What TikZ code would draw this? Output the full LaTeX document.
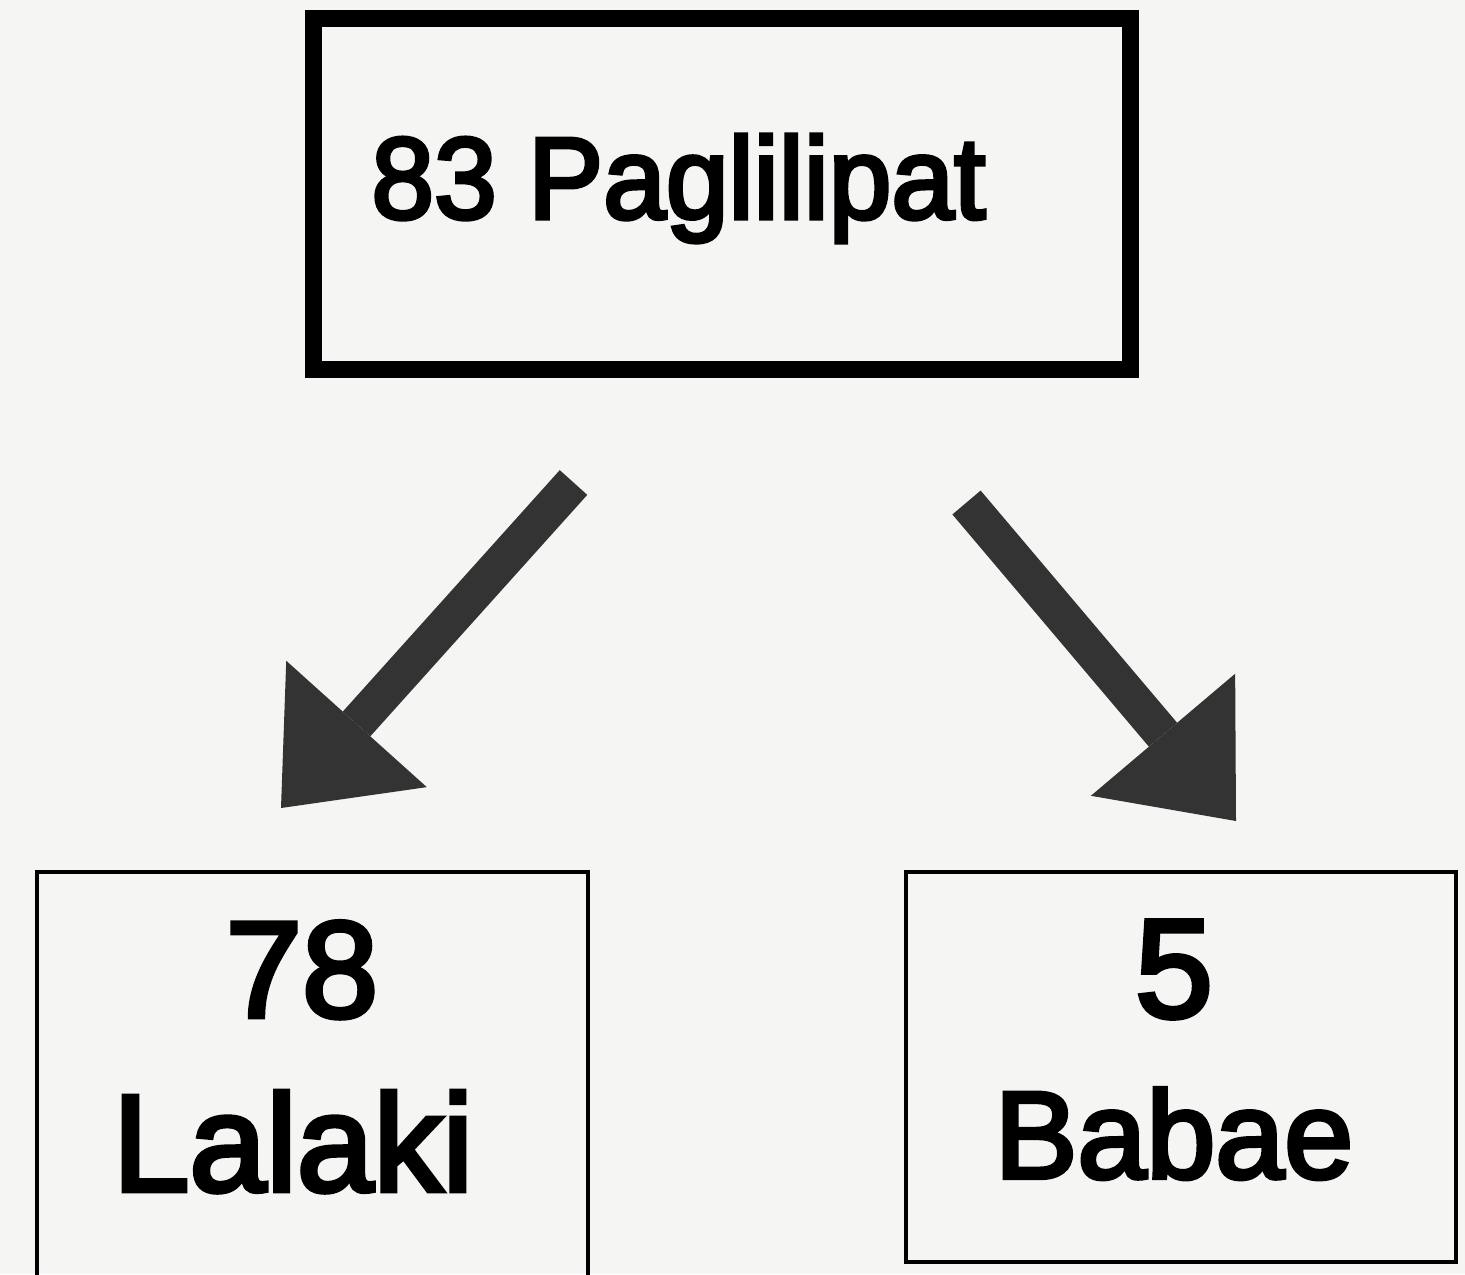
\documentclass[tikz,border=0pt]{standalone}
\usepackage{fontspec}
\setmainfont{Liberation Sans}[FakeBold=3.5]
\usetikzlibrary{arrows.meta}
\definecolor{bgc}{HTML}{F5F5F3}
\definecolor{arrc}{HTML}{333333}
\begin{document}
\begin{tikzpicture}[x=0.5pt,y=-0.5pt,
  box/.style={draw=black,rectangle,inner sep=0pt},
  lbl/.style={inner sep=0pt,anchor=base,text=black},
  bigarrow/.style={draw=arrc,line width=18.5pt,line cap=butt,
    -{Triangle[length=56.5pt,width=94.5pt,line width=0pt]}}]
\fill[bgc] (0,0) rectangle (1465,1274);
\useasboundingbox (0,0) rectangle (1465,1274);
\clip (0,0) rectangle (1465,1274);
% top box
\node[box,line width=8.5pt,minimum width=408.75pt,minimum height=175.5pt] (top) at (721.75,193.5) {};
\node[lbl,anchor=base west] (toptxt) at (371,218.5) {\fontsize{58pt}{58pt}\selectfont\scalebox{0.972}[1]{83 Paglilipat}};
% left box
\node[box,line width=2pt,minimum width=275.5pt,minimum height=214pt] (left) at (312.5,1086) {};
\node[lbl] (lnum) at (302,1017) {\fontsize{68.5pt}{68.5pt}\selectfont 78};
\node[lbl] (ltxt) at (293,1191) {\fontsize{69pt}{69pt}\selectfont Lalaki};
% right box
\node[box,line width=2pt,minimum width=274.75pt,minimum height=195pt] (right) at (1180.75,1067) {};
\node[lbl] (rnum) at (1174,1017) {\fontsize{70pt}{70pt}\selectfont 5};
\node[lbl] (rtxt) at (1174,1178) {\fontsize{62pt}{62pt}\selectfont Babae};
% arrows
\coordinate (la1) at (573.5,482.5);
\coordinate (la2) at (281,808);
\coordinate (ra1) at (966.5,502.5);
\coordinate (ra2) at (1236,821);
\draw[bigarrow] (la1) -- (la2);
\draw[bigarrow] (ra1) -- (ra2);
\end{tikzpicture}
\end{document}
